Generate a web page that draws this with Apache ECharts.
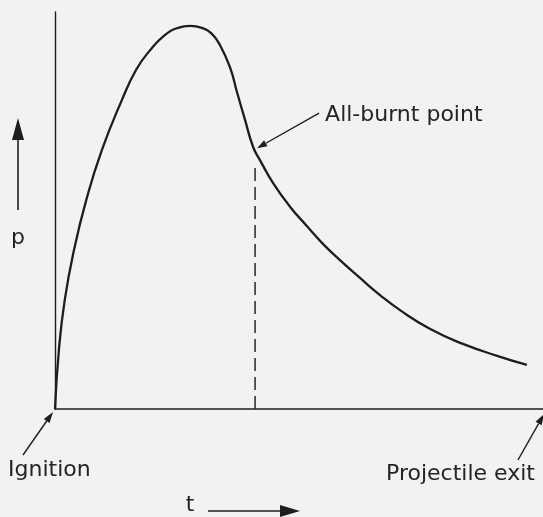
<!DOCTYPE html>
<html>
<head>
<meta charset="utf-8">
<script src="https://cdn.jsdelivr.net/npm/echarts@6/dist/echarts.min.js"></script>
<style>
  html, body { margin: 0; padding: 0; background: #f1f2f4; }
  #chart { width: 543px; height: 517px; }
</style>
</head>
<body>
<div id="chart"></div>
<script>
// Chamber pressure p against time t during a gun firing cycle
const tValues = [0, 0.8, 2.0, 3.9, 6.4, 9.6, 13.7, 16.6, 19.5, 22.5, 25.2, 27.7, 30.1, 32.0, 33.8, 35.9,
  37.3, 38.9, 40.6, 42.0, 44.7, 48.2, 51.6, 54.9, 58.4, 62.5, 66.6, 70.7, 76.8, 83.6, 90.6, 96.7];
const pValues = [0, 14.9, 27.5, 40.1, 52.6, 65.2, 77.8, 85.4, 90.4, 94.2, 96.0, 96.5, 96.0, 94.7, 91.7, 85.9,
  79.8, 73.0, 66.0, 62.7, 56.9, 50.9, 46.1, 41.6, 37.5, 33.0, 28.7, 24.9, 20.2, 16.4, 13.4, 11.1];

// all-burnt point and the dashed drop line below it
const burntT = 41.0;
const burntP = 65.2;
const dropTop = 62.0;

const labels = {
  burnt: 'All-burnt point',
  ignition: 'Ignition',
  exit: 'Projectile exit',
  p: 'p',
  t: 't'
};

const ink = '#1e1c1e';
const font = '"DejaVu Sans", sans-serif';

const chart = echarts.init(document.getElementById('chart'), null, { renderer: 'canvas' });

const curve = tValues.map((t, i) => [t, pValues[i]]);

chart.setOption({
  backgroundColor: '#f1f2f4',
  animation: false,
  grid: { left: 55, right: 0, top: 12, bottom: 108 },
  xAxis: {
    type: 'value', min: 0, max: 100,
    axisLine: { show: true, onZero: false, lineStyle: { color: ink, width: 1.6 } },
    axisTick: { show: false }, axisLabel: { show: false }, splitLine: { show: false }
  },
  yAxis: {
    type: 'value', min: 0, max: 100,
    axisLine: { show: true, onZero: false, lineStyle: { color: ink, width: 1.4 } },
    axisTick: { show: false }, axisLabel: { show: false }, splitLine: { show: false }
  },
  series: [
    {
      type: 'line',
      data: curve,
      smooth: 0.5,
      showSymbol: false,
      lineStyle: { color: ink, width: 2.3 }
    },
    {
      type: 'line',
      data: [[burntT, 0], [burntT, dropTop]],
      showSymbol: false,
      lineStyle: { color: '#333', width: 1.6, type: [13, 6] }
    }
  ]
});

function arrow(x1, y1, x2, y2, headLen, headW, width) {
  const ang = Math.atan2(y2 - y1, x2 - x1);
  const bx = x2 - headLen * Math.cos(ang);
  const by = y2 - headLen * Math.sin(ang);
  const nx = -Math.sin(ang) * headW / 2;
  const ny = Math.cos(ang) * headW / 2;
  return [
    { type: 'line', shape: { x1: x1, y1: y1, x2: bx, y2: by }, style: { stroke: ink, lineWidth: width } },
    { type: 'polygon', shape: { points: [[x2, y2], [bx + nx, by + ny], [bx - nx, by - ny]] }, style: { fill: ink } }
  ];
}

function text(str, x, y, align) {
  return {
    type: 'text', x: x, y: y,
    style: { text: str, fill: '#252325', font: '22px ' + font, align: align || 'left', verticalAlign: 'middle' }
  };
}

const o = chart.convertToPixel({ gridIndex: 0 }, [0, 0]);
const e = chart.convertToPixel({ gridIndex: 0 }, [100, 0]);
const b = chart.convertToPixel({ gridIndex: 0 }, [burntT, burntP]);

const g = [];
// All-burnt point callout
g.push(...arrow(b[0] + 64, b[1] - 37, b[0] + 2, b[1] - 2, 10, 7, 1.4));
g.push(text(labels.burnt, b[0] + 70, b[1] - 35));
// Ignition callout
g.push(...arrow(o[0] - 32, o[1] + 46, o[0] - 2, o[1] + 3, 11, 7, 1.4));
g.push(text(labels.ignition, o[0] - 47, o[1] + 61));
// Projectile exit callout
g.push(...arrow(e[0] - 25, e[1] + 51, e[0] + 1, e[1] + 5, 11, 7, 1.4));
g.push(text(labels.exit, e[0] - 8, e[1] + 65, 'right'));
// p direction arrow
g.push(...arrow(o[0] - 37, o[1] - 199, o[0] - 37, o[1] - 291, 22, 12, 1.6));
g.push(text(labels.p, o[0] - 37, o[1] - 171, 'center'));
// t direction arrow
g.push(...arrow(o[0] + 153, o[1] + 102, o[0] + 245, o[1] + 102, 20, 12, 1.6));
g.push(text(labels.t, o[0] + 135, o[1] + 96, 'center'));

chart.setOption({ graphic: g });
</script>
</body>
</html>
